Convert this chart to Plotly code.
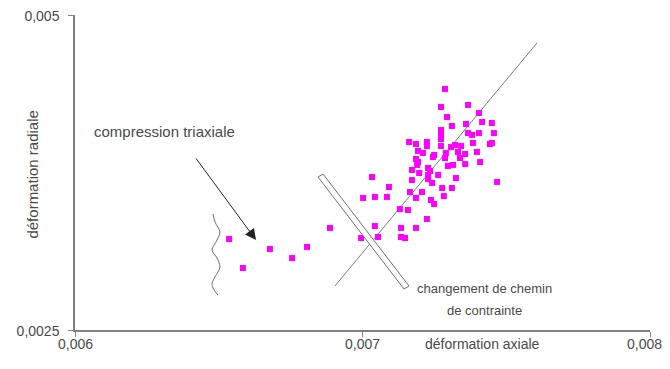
import plotly.graph_objects as go

# ---- data ----
axial = [
    0.006536, 0.006584, 0.006678, 0.006755, 0.006807, 0.006887, 0.006995, 0.007054,
    0.007043, 0.007002, 0.007043, 0.007085, 0.007033, 0.007092, 0.007134, 0.007148,
    0.007134, 0.007186, 0.007224, 0.007130, 0.007158, 0.007165, 0.007186, 0.007207,
    0.007238, 0.007249, 0.007277, 0.007283, 0.007311, 0.007325, 0.007468, 0.007172,
    0.007197, 0.007228, 0.007228, 0.007263, 0.007193, 0.007190, 0.007245, 0.007287,
    0.007297, 0.007315, 0.007339, 0.007357, 0.007409, 0.007228, 0.007235, 0.007172,
    0.007242, 0.007287, 0.007273, 0.007367, 0.007294, 0.007405, 0.007311, 0.007273,
    0.007273, 0.007360, 0.007416, 0.007450, 0.007367, 0.007381, 0.007405, 0.007450,
    0.007162, 0.007186, 0.007224, 0.007224, 0.007273, 0.007273, 0.007308, 0.007322,
    0.007343, 0.007384, 0.007443, 0.007193, 0.007210, 0.007249, 0.007290, 0.007332,
    0.007357, 0.007398, 0.007186, 0.007457,
]
radiale = [
    0.003222, 0.002992, 0.003143, 0.003071, 0.003159, 0.003310, 0.003230, 0.003238,
    0.003325, 0.003548, 0.003556, 0.003556, 0.003714, 0.003635, 0.003238, 0.003230,
    0.003310, 0.003310, 0.003381, 0.003460, 0.003452, 0.003595, 0.003548, 0.003595,
    0.003532, 0.003500, 0.003627, 0.003563, 0.003627, 0.003706, 0.003675, 0.003690,
    0.003746, 0.003730, 0.003698, 0.003730, 0.003833, 0.003810, 0.003873, 0.003865,
    0.003802, 0.003810, 0.003865, 0.003817, 0.003833, 0.003786, 0.003762, 0.003770,
    0.003667, 0.004413, 0.004270, 0.004286, 0.004190, 0.004222, 0.004119, 0.004087,
    0.004056, 0.004135, 0.004151, 0.004143, 0.004063, 0.004048, 0.004063, 0.003984,
    0.003992, 0.003976, 0.003992, 0.003960, 0.004016, 0.003960, 0.003952, 0.003968,
    0.003960, 0.003984, 0.003976, 0.003921, 0.003905, 0.003889, 0.003905, 0.003913,
    0.003897, 0.003913, 0.003857, 0.004063,
]

# reference line (data coordinates of its two ends)
line_x = [0.006904, 0.007607]
line_y = [0.002849, 0.004778]

x_ticks = [0.006, 0.007, 0.008]
x_ticktext = ["0,006", "0,007", "0,008"]
y_ticks = [0.0025, 0.005]
y_ticktext = ["0,0025", "0,005"]

# decorative brace (wavy line) near the start of the curve
brace_x = [0.006480, 0.006487, 0.006504, 0.006494, 0.006477, 0.006494,
           0.006504, 0.006487, 0.006477, 0.006480, 0.006497]
brace_y = [0.0034206, 0.003357, 0.0032778, 0.0032143, 0.0031349, 0.0030714,
           0.0030000, 0.0029206, 0.002873, 0.0028333, 0.0027778]

# double line "changement de chemin de contrainte" (corner points)
band_x = [0.0068452, 0.0068626, 0.0071617, 0.0071443]
band_y = [0.0037143, 0.0037381, 0.0028492, 0.0028254]

FONT = "Liberation Sans, Arial, sans-serif"
TXT = "#4a4a4a"
AXC = "#808080"

fig = go.Figure()

fig.add_trace(go.Scatter(
    x=line_x, y=line_y, mode="lines",
    line=dict(color="#7a7a7a", width=1),
    hoverinfo="skip", showlegend=False,
))

fig.add_trace(go.Scatter(
    x=brace_x, y=brace_y, mode="lines",
    line=dict(color="#6e6e6e", width=1, shape="spline"),
    hoverinfo="skip", showlegend=False,
))

fig.add_trace(go.Scatter(
    x=axial, y=radiale, mode="markers",
    marker=dict(symbol="square", size=6, color="#FF00FF", line=dict(width=0)),
    showlegend=False,
))

path = "M {},{} L {},{} L {},{} L {},{} Z".format(
    band_x[0], band_y[0], band_x[1], band_y[1],
    band_x[2], band_y[2], band_x[3], band_y[3])
fig.add_shape(type="path", path=path, xref="x", yref="y",
              line=dict(color="#6e6e6e", width=1), fillcolor="white", layer="above")

# arrow for "compression triaxiale"
fig.add_annotation(
    x=0.0066296, y=0.003214, ax=0.0064174, ay=0.003873,
    xref="x", yref="y", axref="x", ayref="y",
    text="", showarrow=True, arrowhead=2, arrowsize=2.2, arrowwidth=1,
    arrowcolor="#222222",
)

fig.add_annotation(x=0.006313, y=0.004079, xref="x", yref="y",
                   text="compression triaxiale", showarrow=False,
                   font=dict(family=FONT, size=15, color=TXT))
fig.add_annotation(x=0.0074226, y=0.0028333, xref="x", yref="y",
                   text="changement de chemin", showarrow=False,
                   font=dict(family=FONT, size=13, color=TXT))
fig.add_annotation(x=0.0074226, y=0.0026587, xref="x", yref="y",
                   text="de contrainte", showarrow=False,
                   font=dict(family=FONT, size=13, color=TXT))
fig.add_annotation(x=0.007419, y=-0.076, xref="x", yref="paper",
                   text="déformation axiale", showarrow=False,
                   font=dict(family=FONT, size=14, color=TXT))
fig.add_annotation(x=-0.0922, y=0.495, xref="paper", yref="paper",
                   text="déformation radiale", showarrow=False, textangle=-90,
                   font=dict(family=FONT, size=15, color=TXT))

# x tick labels drawn as annotations so the last one stays inside the page
for i, (tv, tt) in enumerate(zip(x_ticks, x_ticktext)):
    last = i == len(x_ticks) - 1
    fig.add_annotation(x=tv, y=-0.076, xref="x", yref="paper", text=tt,
                       showarrow=False, xanchor="right" if last else "center",
                       xshift=14 if last else 0,
                       font=dict(family=FONT, size=14, color=TXT))

# the page body has an 8 px margin, so the figure is shrunk to stay inside
fig.update_layout(
    template="none",
    width=654, height=361,
    margin=dict(l=67, r=12, t=7, b=39),
    paper_bgcolor="white", plot_bgcolor="white",
    xaxis=dict(range=[0.006, 0.008], tickvals=x_ticks, showticklabels=False,
               automargin=False,
               showgrid=False, zeroline=False, showline=True, linecolor=AXC,
               linewidth=1.5, ticks="outside", ticklen=5, tickcolor=AXC),
    yaxis=dict(range=[0.0025, 0.005], tickvals=y_ticks, ticktext=y_ticktext,
               automargin=False, ticklabeloverflow="allow",
               showgrid=False, zeroline=False, showline=True, linecolor=AXC,
               linewidth=1.5, ticks="outside", ticklen=5, tickcolor=AXC,
               ticklabelstandoff=6, ticklabelshift=1,
               tickfont=dict(family=FONT, size=14, color=TXT)),
)

fig.write_html("out.html")
